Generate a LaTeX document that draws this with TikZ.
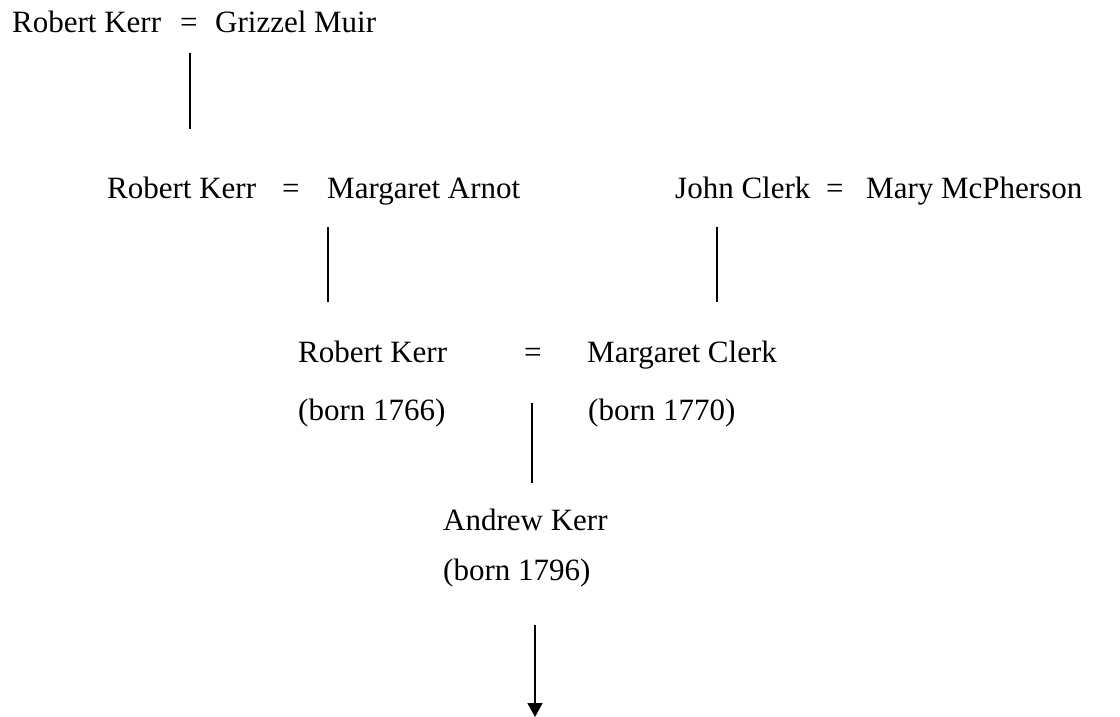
\documentclass[tikz,border=0pt]{standalone}
\usepackage{fontspec}
\setmainfont{Liberation Serif}
\usetikzlibrary{arrows.meta}
\begin{document}
\begin{tikzpicture}[x=1pt,y=-1pt,
  person/.style={anchor=base west,inner sep=0pt,font=\fontsize{31}{36}\selectfont},
  link/.style={line width=1.8pt},
  descent/.style={line width=1.8pt,-{Triangle[length=14pt,width=15pt]}}]
\useasboundingbox (0,0) rectangle (1120,717);
% first generation
\node[person] (rk1) at (12,33) {Robert Kerr};
\node[person] (eq1) at (180,33) {=};
\node[person] (gm) at (215,33) {Grizzel Muir};
% second generation
\node[person] (rk2) at (107,198) {Robert Kerr};
\node[person] (eq2) at (282,198) {=};
\node[person] (ma) at (327,198) {Margaret Arnot};
\node[person] (jc) at (675,198) {John Clerk};
\node[person] (eq3) at (826,198) {=};
\node[person] (mm) at (866,198) {Mary McPherson};
% third generation
\node[person] (rk3) at (298,362) {Robert Kerr};
\node[person] (eq4) at (524,362) {=};
\node[person] (mc) at (587,362) {Margaret Clerk};
\node[person] (rk3b) at (298,420) {(born 1766)};
\node[person] (mcb) at (588,420) {(born 1770)};
% fourth generation
\node[person] (ak) at (443,530) {Andrew Kerr};
\node[person] (akb) at (443,580) {(born 1796)};
% line ends
\coordinate (d1a) at (190,53);  \coordinate (d1b) at (190,129);
\coordinate (d2a) at (328,227); \coordinate (d2b) at (328,302);
\coordinate (d3a) at (717,227); \coordinate (d3b) at (717,302);
\coordinate (d4a) at (532,403); \coordinate (d4b) at (532,483);
\coordinate (d5a) at (535,625); \coordinate (d5b) at (535,717);
\draw[link] (d1a) -- (d1b);
\draw[link] (d2a) -- (d2b);
\draw[link] (d3a) -- (d3b);
\draw[link] (d4a) -- (d4b);
\draw[descent] (d5a) -- (d5b);
\end{tikzpicture}
\end{document}
